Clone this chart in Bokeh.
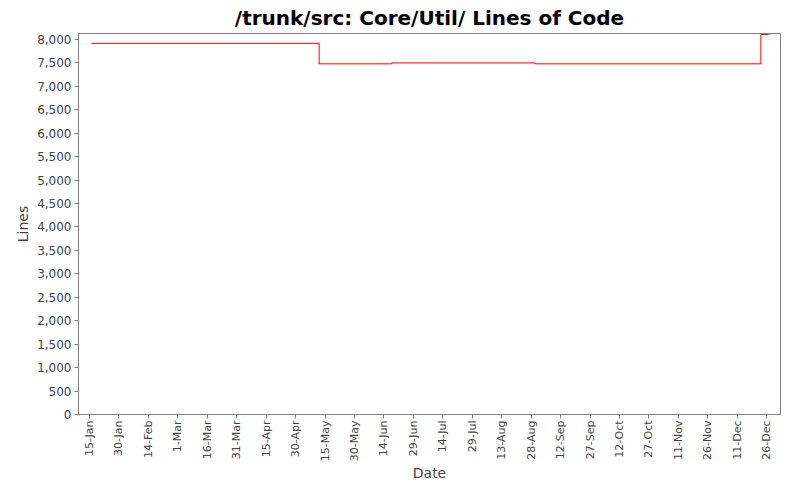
import math
import pandas as pd
from bokeh.plotting import figure
from bokeh.models import FixedTicker, NumeralTickFormatter, Range1d
from bokeh.embed import file_html
from bokeh.resources import INLINE

# ---- data ----
change_dates = ["2009-01-16", "2009-05-12", "2009-06-18", "2009-08-30", "2009-12-23", "2009-12-27"]
lines_of_code = [7915, 7478, 7498, 7478, 8105, 8105]

tick_dates = ["2009-01-15", "2009-01-30", "2009-02-14", "2009-03-01", "2009-03-16", "2009-03-31",
              "2009-04-15", "2009-04-30", "2009-05-15", "2009-05-30", "2009-06-14", "2009-06-29",
              "2009-07-14", "2009-07-29", "2009-08-13", "2009-08-28", "2009-09-12", "2009-09-27",
              "2009-10-12", "2009-10-27", "2009-11-11", "2009-11-26", "2009-12-11", "2009-12-26"]
tick_labels = ["15-Jan", "30-Jan", "14-Feb", "1-Mar", "16-Mar", "31-Mar", "15-Apr", "30-Apr",
               "15-May", "30-May", "14-Jun", "29-Jun", "14-Jul", "29-Jul", "13-Aug", "28-Aug",
               "12-Sep", "27-Sep", "12-Oct", "27-Oct", "11-Nov", "26-Nov", "11-Dec", "26-Dec"]
y_ticks = list(range(0, 8001, 500))

x = pd.to_datetime(change_dates)
tick_ms = [int(pd.Timestamp(d).value // 10**6) for d in tick_dates]

x_start = pd.Timestamp("2009-01-09 10:00")
x_end = pd.Timestamp("2010-01-02 00:00")

FONT = "DejaVu Sans"
GREY = "#444444"

p = figure(width=784, height=484, x_axis_type="datetime",
           output_backend="svg", toolbar_location=None,
           title="/trunk/src: Core/Util/ Lines of Code",
           x_range=Range1d(x_start, x_end), y_range=Range1d(0, 8125),
           min_border_left=78, min_border_right=4, min_border_top=33, min_border_bottom=0)

p.step(x, lines_of_code, mode="after", line_color="#ff0000", line_width=1)

p.title.align = "center"
p.title.text_font = FONT
p.title.text_font_size = "20px"
p.title.text_font_style = "bold"
p.title.text_color = "#000000"
p.title.standoff = 7
p.title.offset = 0

p.grid.visible = False
p.background_fill_color = "white"
p.border_fill_color = "white"
p.outline_line_color = "#808080"
p.outline_line_width = 1

p.xaxis.ticker = FixedTicker(ticks=tick_ms)
p.xaxis.major_label_overrides = {ms: lab for ms, lab in zip(tick_ms, tick_labels)}
p.xaxis.major_label_orientation = math.pi / 2
p.xaxis.axis_label = "Date"

p.yaxis.ticker = FixedTicker(ticks=y_ticks)
p.yaxis.formatter = NumeralTickFormatter(format="0,0")
p.yaxis.axis_label = "Lines"

for ax in (p.xaxis[0], p.yaxis[0]):
    ax.axis_line_color = "#808080"
    ax.major_tick_line_color = "#808080"
    ax.major_tick_out = 4
    ax.major_tick_in = 0
    ax.minor_tick_line_color = None
    ax.major_label_text_font = FONT
    ax.major_label_text_color = GREY
    ax.major_label_standoff = 3
    ax.axis_label_text_font = FONT
    ax.axis_label_text_font_size = "14px"
    ax.axis_label_text_font_style = "normal"
    ax.axis_label_text_color = GREY
    ax.axis_label_standoff = 3

p.xaxis.major_label_standoff = 2
p.xaxis.axis_label_standoff = 1
p.xaxis.major_label_text_font_size = "11px"
p.yaxis.major_label_text_font_size = "12px"

open("out.html", "w").write(file_html(p, INLINE))
